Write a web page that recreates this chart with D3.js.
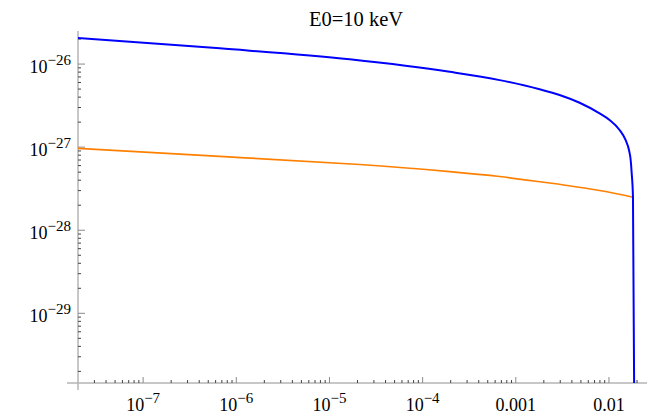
<!DOCTYPE html>
<html>
<head>
<meta charset="utf-8">
<script src="https://d3js.org/d3.v7.min.js"></script>
<style>
  body { margin: 0; background: #fff; }
  text { font-family: "Liberation Serif", "DejaVu Serif", serif; fill: #000; }
</style>
</head>
<body>
<svg width="651" height="414"></svg>
<script>
// curve values
var blueX = [2.0e-8, 6.65e-7, 1.65e-5, 1.95e-4, 6.7e-4, 1.8e-3, 2.95e-3, 4.84e-3, 7.93e-3, 1.016e-2, 1.30e-2, 1.507e-2, 1.64e-2, 1.71e-2, 1.754e-2, 1.81e-2, 1.862e-2];
var blueY = [2.06e-26, 1.545e-26, 1.14e-26, 8.07e-27, 6.41e-27, 4.97e-27, 4.24e-27, 3.42e-27, 2.55e-27, 2.12e-27, 1.61e-27, 1.22e-27, 9.23e-28, 7.0e-28, 4.84e-28, 2.53e-28, 1.45e-30];
var orangeX = [2.0e-8, 6.65e-7, 2.11e-5, 1.95e-4, 6.7e-4, 2.31e-3, 7.93e-3, 1.86e-2];
var orangeY = [9.68e-28, 7.74e-28, 6.18e-28, 5.08e-28, 4.43e-28, 3.70e-28, 3.01e-28, 2.48e-28];

var xTicks = [1e-7, 1e-6, 1e-5, 1e-4, 1e-3, 1e-2];
var xTickLabels = [["10", "\u22127"], ["10", "\u22126"], ["10", "\u22125"], ["10", "\u22124"], ["0.001", ""], ["0.01", ""]];
var yTicks = [1e-26, 1e-27, 1e-28, 1e-29];
var yTickLabels = [["10", "\u221226"], ["10", "\u221227"], ["10", "\u221228"], ["10", "\u221229"]];
var title = "E0=10 keV";

var svg = d3.select("svg");
var pLeft = 78, pRight = 647, pTop = 31, pBottom = 383;

var x = d3.scaleLog().domain([2e-8, 0.0256]).range([pLeft, pRight]);
var y = d3.scaleLog().domain([1.45e-30, 2.5e-26]).range([pBottom, pTop]);

// minor ticks 2..9 per decade
function minors(lo, hi, d0, d1) {
  var out = [];
  for (var e = d0; e <= d1; e++) {
    for (var k = 2; k <= 9; k++) {
      var v = k * Math.pow(10, e);
      if (v > lo && v < hi) out.push(v);
    }
  }
  return out;
}

svg.append("clipPath").attr("id", "plot")
  .append("rect").attr("x", pLeft).attr("y", pTop - 5).attr("width", pRight - pLeft + 5).attr("height", pBottom - pTop + 5);

// axes
svg.append("line").attr("x1", 67).attr("x2", pRight).attr("y1", pBottom).attr("y2", pBottom)
  .attr("stroke", "#b4b4b4").attr("stroke-width", 1.5);
svg.append("line").attr("x1", pLeft).attr("x2", pLeft).attr("y1", pTop).attr("y2", 390)
  .attr("stroke", "#b4b4b4").attr("stroke-width", 1.5);

// x ticks
svg.selectAll(".xmaj").data(xTicks).enter().append("line")
  .attr("x1", d => x(d)).attr("x2", d => x(d))
  .attr("y1", pBottom).attr("y2", pBottom - 6)
  .attr("stroke", "#8a8a8a").attr("stroke-width", 1);
svg.selectAll(".xmin").data(minors(2e-8, 0.0256, -8, -2)).enter().append("line")
  .attr("x1", d => x(d)).attr("x2", d => x(d))
  .attr("y1", pBottom).attr("y2", pBottom - 3)
  .attr("stroke", "#444").attr("stroke-width", 1);

// y ticks
svg.selectAll(".ymaj").data(yTicks).enter().append("line")
  .attr("x1", pLeft).attr("x2", pLeft + 7)
  .attr("y1", d => y(d)).attr("y2", d => y(d))
  .attr("stroke", "#8a8a8a").attr("stroke-width", 1);
svg.selectAll(".ymin").data(minors(1.45e-30, 2.5e-26, -30, -26)).enter().append("line")
  .attr("x1", pLeft).attr("x2", pLeft + 3)
  .attr("y1", d => y(d)).attr("y2", d => y(d))
  .attr("stroke", "#444").attr("stroke-width", 1);

// x labels
var xl = svg.selectAll(".xlab").data(xTicks).enter().append("text")
  .attr("x", d => x(d)).attr("y", 411)
  .attr("text-anchor", "middle").style("font-size", "18px");
xl.append("tspan").text((d, i) => xTickLabels[i][0]);
xl.append("tspan").attr("dy", -8).style("font-size", "15px").text((d, i) => xTickLabels[i][1]);

// y labels
var yl = svg.selectAll(".ylab").data(yTicks).enter().append("text")
  .attr("x", 71).attr("y", d => y(d) + 8.5)
  .attr("text-anchor", "end").style("font-size", "18px");
yl.append("tspan").text((d, i) => yTickLabels[i][0]);
yl.append("tspan").attr("dy", -7.5).style("font-size", "15px").text((d, i) => yTickLabels[i][1]);

// title
svg.append("text").attr("x", 356).attr("y", 26).attr("text-anchor", "middle")
  .style("font-size", "20.5px").text(title);

var blueLine = d3.line().x(d => x(d[0])).y(d => y(d[1])).curve(d3.curveMonotoneX);
var orangeLine = d3.line().x(d => x(d[0])).y(d => y(d[1])).curve(d3.curveNatural);

svg.append("path").datum(d3.zip(orangeX, orangeY))
  .attr("d", orangeLine).attr("fill", "none")
  .attr("stroke", "#ff8000").attr("stroke-width", 1.7).attr("clip-path", "url(#plot)");
svg.append("path").datum(d3.zip(blueX, blueY))
  .attr("d", blueLine).attr("fill", "none")
  .attr("stroke", "#0000ff").attr("stroke-width", 2).attr("clip-path", "url(#plot)");
</script>
</body>
</html>
